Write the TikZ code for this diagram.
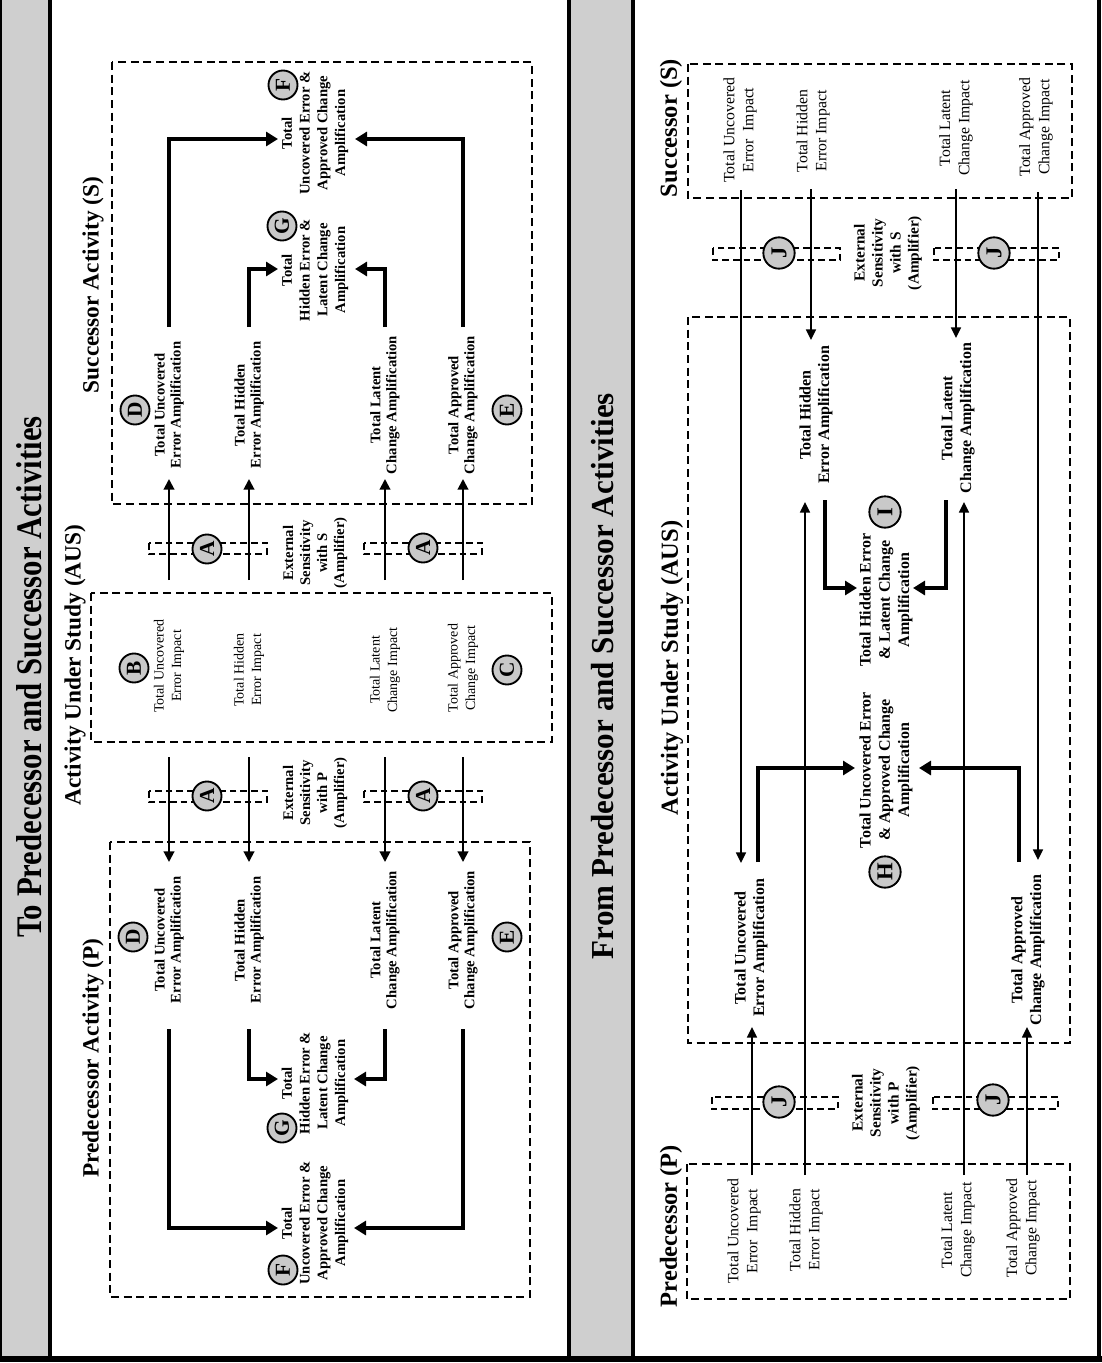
\documentclass[tikz,border=0pt]{standalone}
\usepackage{fontspec}
\setmainfont{Liberation Serif}
\newfontfamily\wideTitleFont[FakeStretch=0.855]{Liberation Serif}
\newfontfamily\narrowTitleFont[FakeStretch=0.97]{Liberation Serif}
\usetikzlibrary{arrows.meta}
\definecolor{stripgray}{HTML}{CFCFCF}
\definecolor{badgegray}{HTML}{C9C9C9}
\begin{document}
\begin{tikzpicture}[x=0.75pt,y=-0.75pt,
  boxline/.style={line width=1.4pt, dash pattern=on 6pt off 3.5pt},
  sensbar/.style={line width=1.3pt, dash pattern=on 5pt off 3pt},
  thinarrow/.style={line width=1.5pt, -{Triangle[length=8pt,width=8pt]}},
  thinarrowR/.style={line width=1.2pt, -{Triangle[length=8pt,width=7.5pt]}},
  thickarrow/.style={line width=3.2pt, -{Triangle[length=9pt,width=10.5pt]}},
  badge/.style={circle, draw, line width=1.4pt, fill=badgegray, minimum size=21.75pt, inner sep=0pt, rotate=90, font=\bfseries\fontsize{16}{16}\selectfont},
  badgeR/.style={badge, minimum size=23.5pt, font=\bfseries\fontsize{17}{17}\selectfont},
  ampL/.style={rotate=90, align=center, inner sep=1pt, font=\bfseries\fontsize{11}{12}\selectfont},
  grpL/.style={rotate=90, align=center, inner sep=1pt, font=\bfseries\fontsize{11}{13.3}\selectfont},
  impL/.style={rotate=90, align=center, inner sep=1pt, font=\fontsize{10.5}{13}\selectfont},
  ampR/.style={rotate=90, align=center, inner sep=1pt, font=\bfseries\fontsize{12}{14}\selectfont},
  grpR/.style={rotate=90, align=center, inner sep=1pt, font=\bfseries\fontsize{12}{14.5}\selectfont},
  impR/.style={rotate=90, align=center, inner sep=1pt, font=\fontsize{11.8}{14.3}\selectfont},
  sensL/.style={rotate=90, align=center, inner sep=1pt, font=\bfseries\fontsize{11}{12.75}\selectfont},
  sensR/.style={rotate=90, align=center, inner sep=1pt, font=\bfseries\fontsize{11.5}{13.5}\selectfont},
  subL/.style={rotate=90, inner sep=0pt, font=\bfseries\fontsize{17.5}{20}\selectfont},
  subR/.style={rotate=90, inner sep=0pt, font=\bfseries\fontsize{18.4}{21}\selectfont},
]
\useasboundingbox (0,0) rectangle (1102,1363);

% ---------- frame and title strips ----------
\fill[stripgray] (0,0) rectangle (49,1357);
\fill[stripgray] (571,0) rectangle (631,1357);
\draw[line width=1.2pt] (1,0) -- (1,1357);
\draw[line width=3pt] (50,0) -- (50,1357);
\draw[line width=3pt] (569,0) -- (569,1357);
\draw[line width=3pt] (633,0) -- (633,1357);
\draw[line width=3.5pt] (1099,0) -- (1099,1357);
\draw[line width=4.5pt] (0,1359) -- (1102,1359);

\node[rotate=90, inner sep=0pt, font=\wideTitleFont\bfseries\fontsize{27}{30}\selectfont] (titleTo) at (29,677) {To Predecessor and Successor Activities};
\node[rotate=90, inner sep=0pt, font=\narrowTitleFont\bfseries\fontsize{24}{28}\selectfont] (titleFrom) at (603,676) {From Predecessor and Successor Activities};

% =====================================================
% Left panel: to predecessor and successor activities
% =====================================================
\draw[boxline] (112,62) rectangle (532,504);
\draw[boxline] (91,593) rectangle (552,742);
\draw[boxline] (110,842) rectangle (530,1297);

\node[subL] (subLS) at (93,285) {Successor Activity (S)};
\node[subL] (subLA) at (75,665) {Activity Under Study (AUS)};
\node[subL] (subLP) at (93,1058) {Predecessor Activity (P)};

% successor amplification labels
\node[ampL] (sU) at (169,405) {Total Uncovered\\Error Amplification};
\node[ampL] (sH) at (249,405) {Total Hidden\\Error Amplification};
\node[ampL] (sL) at (385,405) {Total Latent\\Change Amplification};
\node[ampL] (sA) at (463,405) {Total Approved\\Change Amplification};
\node[grpL] (sG) at (315,270) {Total\\Hidden Error \&\\Latent Change\\Amplification};
\node[grpL] (sF) at (315,133) {Total\\Uncovered Error \&\\Approved Change\\Amplification};

% AUS impact labels
\node[impL] (aU) at (169,666) {Total Uncovered\\Error Impact};
\node[impL] (aH) at (249,670) {Total Hidden\\Error Impact};
\node[impL] (aL) at (385,670) {Total Latent\\Change Impact};
\node[impL] (aA) at (463,668) {Total Approved\\Change Impact};

% predecessor amplification labels
\node[ampL] (pU) at (169,940) {Total Uncovered\\Error Amplification};
\node[ampL] (pH) at (249,940) {Total Hidden\\Error Amplification};
\node[ampL] (pL) at (385,940) {Total Latent\\Change Amplification};
\node[ampL] (pA) at (463,940) {Total Approved\\Change Amplification};
\node[grpL] (pG) at (315,1083) {Total\\Hidden Error \&\\Latent Change\\Amplification};
\node[grpL] (pF) at (315,1223) {Total\\Uncovered Error \&\\Approved Change\\Amplification};

% sensitivity bars
\draw[sensbar] (149,543) rectangle (267,554);
\draw[sensbar] (364,543) rectangle (482,554);
\draw[sensbar] (149,791) rectangle (267,802);
\draw[sensbar] (364,791) rectangle (482,802);
\node[sensL] (sensLS) at (315,553) {External\\Sensitivity\\with S\\(Amplifier)};
\node[sensL] (sensLP) at (315,793) {External\\Sensitivity\\with P\\(Amplifier)};

% thin arrows out of the AUS
\foreach \c [count=\i] in {169,249,385,463} {
  \coordinate (LupFrom\i) at (\c,580);
  \coordinate (LupTo\i) at (\c,479);
  \coordinate (LdnFrom\i) at (\c,757);
  \coordinate (LdnTo\i) at (\c,862);
  \draw[thinarrow] (LupFrom\i) -- (LupTo\i);
  \draw[thinarrow] (LdnFrom\i) -- (LdnTo\i);
}

% thick combining arrows, successor side
\coordinate (sUo) at (169,327); \coordinate (sFin1) at (278,139);
\coordinate (sAo) at (463,327); \coordinate (sFin2) at (355,139);
\coordinate (sHo) at (249,327); \coordinate (sGin1) at (278,269);
\coordinate (sLo) at (385,327); \coordinate (sGin2) at (355,269);
\draw[thickarrow] (sUo) |- (sFin1);
\draw[thickarrow] (sAo) |- (sFin2);
\draw[thickarrow] (sHo) |- (sGin1);
\draw[thickarrow] (sLo) |- (sGin2);

% thick combining arrows, predecessor side
\coordinate (pUo) at (169,1029); \coordinate (pFin1) at (278,1228);
\coordinate (pAo) at (463,1029); \coordinate (pFin2) at (354,1228);
\coordinate (pHo) at (249,1029); \coordinate (pGin1) at (278,1079);
\coordinate (pLo) at (385,1029); \coordinate (pGin2) at (354,1079);
\draw[thickarrow] (pUo) |- (pFin1);
\draw[thickarrow] (pAo) |- (pFin2);
\draw[thickarrow] (pHo) |- (pGin1);
\draw[thickarrow] (pLo) |- (pGin2);

% lettered badges
\node[badge] (bF1) at (283,85) {F};
\node[badge] (bG1) at (282,226) {G};
\node[badge] (bD1) at (135,410) {D};
\node[badge] (bE1) at (507,410) {E};
\node[badge] (bA1) at (207,549) {A};
\node[badge] (bA2) at (423,548) {A};
\node[badge] (bB) at (134,668) {B};
\node[badge] (bC) at (507,670) {C};
\node[badge] (bA3) at (207,796) {A};
\node[badge] (bA4) at (423,796) {A};
\node[badge] (bD2) at (133,937) {D};
\node[badge] (bE2) at (507,937) {E};
\node[badge] (bG2) at (282,1128) {G};
\node[badge] (bF2) at (283,1270) {F};

% =====================================================
% Right panel: from predecessor and successor activities
% =====================================================
\draw[boxline] (688,64) rectangle (1072,198);
\draw[boxline] (688,317) rectangle (1070,1043);
\draw[boxline] (687,1164) rectangle (1070,1299);

\node[subR] (subRS) at (671,128) {Successor (S)};
\node[subR] (subRA) at (672,668) {Activity Under Study (AUS)};
\node[subR] (subRP) at (671,1226) {Predecessor (P)};

% successor impacts
\node[impR] (rsU) at (740,130) {Total Uncovered\\Error\ \ Impact};
\node[impR] (rsH) at (813,131) {Total Hidden\\Error Impact};
\node[impR] (rsL) at (956,128) {Total Latent\\Change Impact};
\node[impR] (rsA) at (1036,127) {Total Approved\\Change Impact};

% predecessor impacts
\node[impR] (rpU) at (744,1231) {Total Uncovered\\Error\ \ Impact};
\node[impR] (rpH) at (806,1230) {Total Hidden\\Error Impact};
\node[impR] (rpL) at (958,1230) {Total Latent\\Change Impact};
\node[impR] (rpA) at (1023,1228) {Total Approved\\Change Impact};

% AUS amplification labels
\node[ampR] (raH) at (816,415) {Total Hidden\\Error Amplification};
\node[ampR] (raL) at (958,418) {Total Latent\\Change Amplification};
\node[ampR] (raU) at (751,948) {Total Uncovered\\Error Amplification};
\node[ampR] (raA) at (1028,950) {Total Approved\\Change Amplification};
\node[grpR] (raI) at (886,600) {Total Hidden Error\\\& Latent Change\\Amplification};
\node[grpR] (raHH) at (886,770) {Total Uncovered Error\\\& Approved Change\\Amplification};

% sensitivity bars
\draw[sensbar] (713,248) rectangle (840,260);
\draw[sensbar] (934,248) rectangle (1059,260);
\draw[sensbar] (712,1097) rectangle (838,1109);
\draw[sensbar] (933,1097) rectangle (1058,1109);
\node[sensR] (sensRS) at (888,253) {External\\Sensitivity\\with S\\(Amplifier)};
\node[sensR] (sensRP) at (886,1103) {External\\Sensitivity\\with P\\(Amplifier)};

% long thin lines from the successor
\coordinate (rsUo) at (741,190);  \coordinate (rsUi) at (741,863);
\coordinate (rsHo) at (811,189);  \coordinate (rsHi) at (811,340);
\coordinate (rsLo) at (956,189);  \coordinate (rsLi) at (956,338);
\coordinate (rsAo) at (1038,192); \coordinate (rsAi) at (1038,860);
\draw[thinarrowR] (rsUo) -- (rsUi);
\draw[thinarrowR] (rsHo) -- (rsHi);
\draw[thinarrowR] (rsLo) -- (rsLi);
\draw[thinarrowR] (rsAo) -- (rsAi);

% long thin lines from the predecessor
\coordinate (rpUo) at (752,1175);  \coordinate (rpUi) at (752,1027);
\coordinate (rpHo) at (805,1175);  \coordinate (rpHi) at (805,502);
\coordinate (rpLo) at (964,1175);  \coordinate (rpLi) at (964,502);
\coordinate (rpAo) at (1027,1175); \coordinate (rpAi) at (1027,1027);
\draw[thinarrowR] (rpUo) -- (rpUi);
\draw[thinarrowR] (rpHo) -- (rpHi);
\draw[thinarrowR] (rpLo) -- (rpLi);
\draw[thinarrowR] (rpAo) -- (rpAi);

% thick combining arrows inside the AUS
\coordinate (raHo) at (825,500);  \coordinate (raIin1) at (857,588);
\coordinate (raLo) at (946,500);  \coordinate (raIin2) at (913,588);
\coordinate (raUo) at (758,862);  \coordinate (raHin1) at (855,768);
\coordinate (raAo) at (1019,862); \coordinate (raHin2) at (919,768);
\draw[thickarrow] (raHo) |- (raIin1);
\draw[thickarrow] (raLo) |- (raIin2);
\draw[thickarrow] (raUo) |- (raHin1);
\draw[thickarrow] (raAo) |- (raHin2);

% lettered badges
\node[badgeR] (bJ1) at (779,253) {J};
\node[badgeR] (bJ2) at (994,253) {J};
\node[badgeR] (bI) at (885,512) {I};
\node[badgeR] (bH) at (885,872) {H};
\node[badgeR] (bJ3) at (779,1102) {J};
\node[badgeR] (bJ4) at (993,1100) {J};
\end{tikzpicture}
\end{document}
